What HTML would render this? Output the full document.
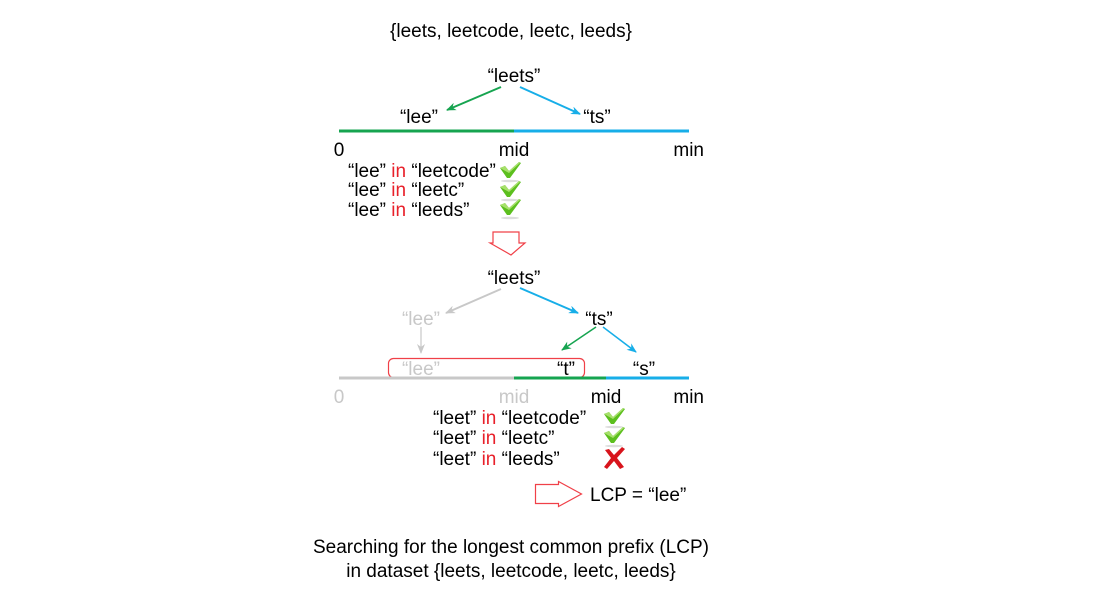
<!DOCTYPE html>
<html><head><meta charset="utf-8"><style>
html,body{margin:0;padding:0;background:#fff;}
svg{display:block;}
text{font-family:"Liberation Sans",Arial,sans-serif;font-size:19px;fill:#000;}
.g{fill:#c8c8c8;}
.r{fill:#e8202a;}
</style></head><body>
<svg width="1098" height="597" viewBox="0 0 1098 597" xmlns="http://www.w3.org/2000/svg">
<defs>
<marker id="ag" markerWidth="10" markerHeight="8" refX="9" refY="4" orient="auto" markerUnits="userSpaceOnUse"><path d="M0,0 L10,4 L0,8 L3,4 z" fill="#16a450"/></marker>
<marker id="ab" markerWidth="10" markerHeight="8" refX="9" refY="4" orient="auto" markerUnits="userSpaceOnUse"><path d="M0,0 L10,4 L0,8 L3,4 z" fill="#17aee8"/></marker>
<marker id="ay" markerWidth="10" markerHeight="8" refX="9" refY="4" orient="auto" markerUnits="userSpaceOnUse"><path d="M0,0 L10,4 L0,8 L3,4 z" fill="#c8c8c8"/></marker>
<g id="ck"><path d="M0,6 L5,4 L9,9 L19,0 L21,1 L10,16 L7,16 z" fill="#5cbf1e"/><path d="M0,6 L5,4 L9,9 L19,0 L20,1 L9,11 z" fill="#a7e06b"/><ellipse cx="10" cy="19" rx="9" ry="1.2" fill="#ddd"/></g>
</defs>
<text x="511" y="37" text-anchor="middle">{leets, leetcode, leetc, leeds}</text>

<text x="514" y="82" text-anchor="middle">“leets”</text>
<line x1="501" y1="87" x2="447" y2="110" stroke="#16a450" stroke-width="2" marker-end="url(#ag)"/>
<line x1="520" y1="87" x2="580" y2="114" stroke="#17aee8" stroke-width="2" marker-end="url(#ab)"/>
<text x="419" y="123" text-anchor="middle">“lee”</text>
<text x="597" y="123" text-anchor="middle">“ts”</text>
<line x1="339" y1="131" x2="514" y2="131" stroke="#16a450" stroke-width="3"/>
<line x1="514" y1="131" x2="689" y2="131" stroke="#17aee8" stroke-width="3"/>
<text x="339" y="156" text-anchor="middle">0</text>
<text x="514" y="156" text-anchor="middle">mid</text>
<text x="704" y="156" text-anchor="end">min</text>
<text x="348" y="177">“lee” <tspan class="r">in</tspan> “leetcode”</text>
<text x="348" y="196">“lee” <tspan class="r">in</tspan> “leetc”</text>
<text x="348" y="216">“lee” <tspan class="r">in</tspan> “leeds”</text>
<use href="#ck" x="500" y="162"/>
<use href="#ck" x="500" y="181"/>
<use href="#ck" x="500" y="199"/>
<path d="M493,232 L519,232 L519,243 L525,243 L511,255 L490,243 L493,243 z" fill="none" stroke="#f04048" stroke-width="1.2"/>

<text x="514" y="284" text-anchor="middle">“leets”</text>
<line x1="501" y1="289" x2="446" y2="313" stroke="#c8c8c8" stroke-width="2" marker-end="url(#ay)"/>
<line x1="520" y1="288" x2="578" y2="313" stroke="#17aee8" stroke-width="2" marker-end="url(#ab)"/>
<text x="421" y="325" text-anchor="middle" class="g">“lee”</text>
<text x="599" y="325" text-anchor="middle">“ts”</text>
<line x1="421" y1="327" x2="421" y2="353" stroke="#c8c8c8" stroke-width="1.2" marker-end="url(#ay)"/>
<line x1="596" y1="327" x2="562" y2="350" stroke="#16a450" stroke-width="1.5" marker-end="url(#ag)"/>
<line x1="603" y1="327" x2="636" y2="352" stroke="#17aee8" stroke-width="1.5" marker-end="url(#ab)"/>
<rect x="388.5" y="358.5" width="196" height="19" rx="5" fill="none" stroke="#f04048" stroke-width="1.2"/>
<text x="421" y="375" text-anchor="middle" class="g">“lee”</text>
<text x="566" y="375" text-anchor="middle">“t”</text>
<text x="644" y="375" text-anchor="middle">“s”</text>
<line x1="339" y1="378" x2="514" y2="378" stroke="#c8c8c8" stroke-width="3"/>
<line x1="514" y1="378" x2="606" y2="378" stroke="#16a450" stroke-width="3"/>
<line x1="606" y1="378" x2="689" y2="378" stroke="#17aee8" stroke-width="3"/>
<text x="339" y="403" text-anchor="middle" class="g">0</text>
<text x="514" y="403" text-anchor="middle" class="g">mid</text>
<text x="606" y="403" text-anchor="middle">mid</text>
<text x="704" y="403" text-anchor="end">min</text>
<text x="433" y="424">“leet” <tspan class="r">in</tspan> “leetcode”</text>
<text x="433" y="444">“leet” <tspan class="r">in</tspan> “leetc”</text>
<text x="433" y="465">“leet” <tspan class="r">in</tspan> “leeds”</text>
<use href="#ck" x="604" y="408"/>
<use href="#ck" x="604" y="427"/>
<path d="M605,450 L609,449 L614,455 L622,447 L625,449 L617,458 L624,467 L620,469 L614,461 L607,469 L604,467 L611,458 z" fill="#d8141c"/>
<path d="M535.5,484.5 L558.5,484.5 L558.5,481.5 L581.5,494 L558.5,506.5 L558.5,503.5 L535.5,503.5 z" fill="none" stroke="#f04048" stroke-width="1.2"/>
<text x="590" y="501">LCP = “lee”</text>

<text x="511" y="553" text-anchor="middle">Searching for the longest common prefix (LCP)</text>
<text x="511" y="577" text-anchor="middle">in dataset {leets, leetcode, leetc, leeds}</text>
</svg>
</body></html>
